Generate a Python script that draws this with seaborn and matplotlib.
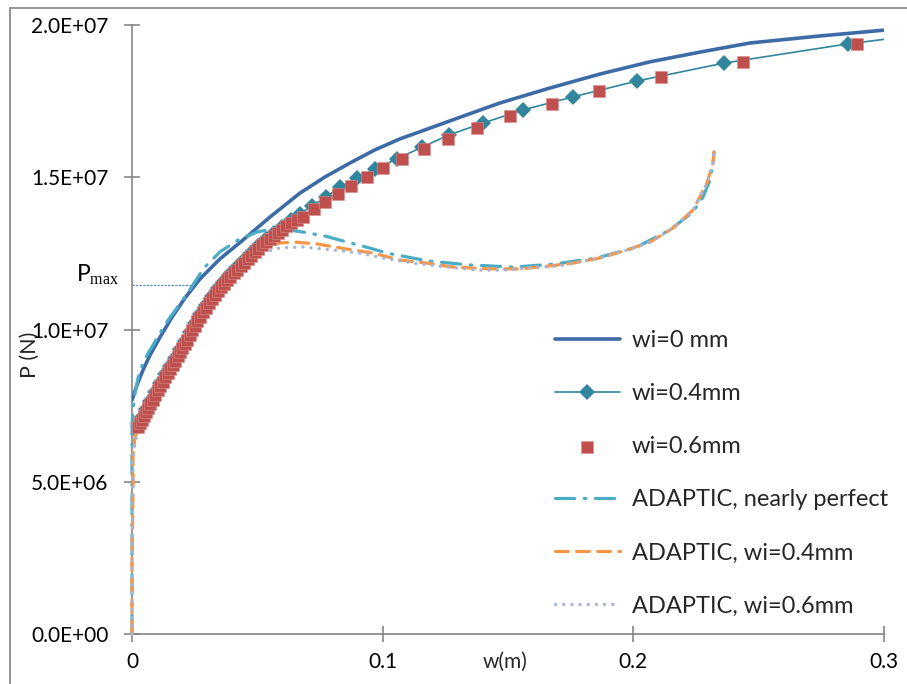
import numpy as np
import pandas as pd
import matplotlib
matplotlib.use("Agg")
import matplotlib.pyplot as plt
import seaborn as sns
from matplotlib.ticker import FuncFormatter, FixedLocator
from matplotlib.patches import Rectangle

# values: w in m, P in MN
w_wi0 = [0, 0.0020, 0.0044, 0.0072, 0.0112, 0.0160, 0.0211, 0.0271, 0.0351, 0.0443,
         0.0550, 0.0670, 0.0770, 0.0870, 0.0969, 0.1069, 0.1201, 0.1332, 0.1468, 0.1667,
         0.1867, 0.2066, 0.2266, 0.2466, 0.2745, 0.3012]
P_wi0 = [7.68, 8.18, 8.67, 9.16, 9.75, 10.41, 11.03, 11.66, 12.32, 12.94,
         13.69, 14.48, 15.01, 15.47, 15.90, 16.26, 16.65, 17.04, 17.44, 17.93,
         18.39, 18.79, 19.11, 19.41, 19.64, 19.84]

w_wi04 = [0.0012, 0.0024, 0.0040, 0.0056, 0.0072, 0.0092, 0.0112, 0.0132, 0.0152, 0.0172,
          0.0191, 0.0211, 0.0231, 0.0251, 0.0271, 0.0295, 0.0319, 0.0343, 0.0367, 0.0391,
          0.0419, 0.0447, 0.0475, 0.0503, 0.0535, 0.0566, 0.0598, 0.0634, 0.0670, 0.0718,
          0.0774, 0.0830, 0.0898, 0.0969, 0.1057, 0.1157, 0.1265, 0.1400, 0.1560, 0.1759,
          0.2014, 0.2362, 0.2856, 0.3303]
P_wi04 = [6.72, 6.90, 7.13, 7.39, 7.65, 7.95, 8.24, 8.54, 8.80, 9.07,
          9.36, 9.62, 9.92, 10.22, 10.51, 10.81, 11.10, 11.36, 11.59, 11.82,
          12.05, 12.28, 12.51, 12.74, 12.97, 13.17, 13.37, 13.60, 13.80, 14.06,
          14.35, 14.68, 14.98, 15.27, 15.60, 15.99, 16.39, 16.78, 17.21, 17.64,
          18.16, 18.75, 19.38, 19.84]

w_wi06 = [0.0024, 0.0032, 0.0040, 0.0048, 0.0056, 0.0064, 0.0072, 0.0082, 0.0092, 0.0102,
          0.0112, 0.0122, 0.0132, 0.0142, 0.0152, 0.0162, 0.0172, 0.0182, 0.0191, 0.0201,
          0.0211, 0.0221, 0.0231, 0.0241, 0.0251, 0.0261, 0.0271, 0.0283, 0.0295, 0.0307,
          0.0319, 0.0331, 0.0343, 0.0355, 0.0367, 0.0379, 0.0391, 0.0405, 0.0419, 0.0433,
          0.0447, 0.0461, 0.0475, 0.0489, 0.0503, 0.0519, 0.0535, 0.0551, 0.0566, 0.0582,
          0.0598, 0.0616, 0.0634, 0.0658, 0.0682, 0.0726, 0.0770, 0.0822, 0.0874, 0.0937,
          0.1001, 0.1077, 0.1165, 0.1261, 0.1376, 0.1508, 0.1675, 0.1863, 0.2110, 0.2437,
          0.2892, 0.3383]
P_wi06 = [6.80, 6.92, 7.03, 7.16, 7.29, 7.42, 7.55, 7.70, 7.85, 8.00,
          8.14, 8.29, 8.44, 8.57, 8.70, 8.84, 8.97, 9.12, 9.26, 9.39,
          9.52, 9.67, 9.82, 9.97, 10.12, 10.27, 10.41, 10.56, 10.71, 10.86,
          11.00, 11.13, 11.26, 11.38, 11.49, 11.61, 11.72, 11.84, 11.95, 12.07,
          12.18, 12.30, 12.41, 12.53, 12.64, 12.76, 12.87, 12.97, 13.07, 13.17,
          13.27, 13.39, 13.50, 13.60, 13.69, 13.96, 14.19, 14.45, 14.71, 15.01,
          15.30, 15.60, 15.93, 16.26, 16.62, 17.01, 17.41, 17.83, 18.29, 18.79,
          19.38, 19.90]

w_adp0 = [0, 0, 0, 0, 0.0004, 0.0012, 0.0024, 0.0040, 0.0060, 0.0084,
          0.0112, 0.0144, 0.0176, 0.0207, 0.0243, 0.0287, 0.0351, 0.0423, 0.0499, 0.0578,
          0.0682, 0.0770, 0.0858, 0.0933, 0.1017, 0.1181, 0.1348, 0.1520, 0.1687, 0.1855,
          0.2014, 0.2146, 0.2238, 0.2278, 0.2306, 0.2318, 0.2322]
P_adp0 = [0, 3.09, 5.71, 6.86, 7.36, 7.91, 8.41, 8.80, 9.16, 9.49,
          9.89, 10.31, 10.67, 11.03, 11.46, 12.02, 12.55, 12.94, 13.20, 13.33,
          13.20, 13.07, 12.87, 12.71, 12.51, 12.25, 12.12, 12.05, 12.15, 12.35,
          12.71, 13.27, 13.86, 14.35, 14.91, 15.47, 15.83]

w_adp04 = [0, 0, 0.0004, 0.0004, 0.0012, 0.0024, 0.0040, 0.0060, 0.0084, 0.0112,
           0.0144, 0.0180, 0.0219, 0.0259, 0.0299, 0.0363, 0.0443, 0.0519, 0.0590, 0.0650,
           0.0738, 0.0858, 0.0961, 0.1069, 0.1177, 0.1280, 0.1428, 0.1548, 0.1667, 0.1759,
           0.1867, 0.1975, 0.2066, 0.2158, 0.2238, 0.2294, 0.2318, 0.2322]
P_adp04 = [0, 2.43, 4.73, 5.88, 6.47, 6.77, 7.06, 7.42, 7.82, 8.24,
           8.70, 9.20, 9.75, 10.31, 10.90, 11.69, 12.38, 12.68, 12.84, 12.87,
           12.81, 12.64, 12.51, 12.28, 12.18, 12.05, 11.99, 11.99, 12.09, 12.18,
           12.35, 12.61, 12.87, 13.33, 13.92, 14.81, 15.47, 15.83]

w_adp06 = [0, 0, 0.0004, 0.0004, 0.0012, 0.0024, 0.0040, 0.0060, 0.0084, 0.0112,
           0.0144, 0.0180, 0.0219, 0.0259, 0.0299, 0.0363, 0.0443, 0.0519, 0.0590, 0.0682,
           0.0802, 0.0910, 0.1001, 0.1121, 0.1257, 0.1388, 0.1480, 0.1588, 0.1707, 0.1867,
           0.1975, 0.2066, 0.2158, 0.2238, 0.2294, 0.2318, 0.2322]
P_adp06 = [0, 2.43, 4.73, 5.71, 6.31, 6.70, 6.99, 7.36, 7.75, 8.18,
           8.64, 9.13, 9.69, 10.25, 10.80, 11.53, 12.12, 12.51, 12.68, 12.71,
           12.61, 12.51, 12.35, 12.18, 12.05, 11.95, 11.95, 12.02, 12.09, 12.35,
           12.61, 12.87, 13.33, 13.92, 14.81, 15.47, 15.83]

p_max = 11.46
w_pmax = 0.0243

labels = ["wi=0 mm", "wi=0.4mm", "wi=0.6mm", "ADAPTIC, nearly perfect",
          "ADAPTIC, wi=0.4mm", "ADAPTIC, wi=0.6mm"]


def frame(w, P):
    return pd.DataFrame({"w": w, "P": np.array(P) * 1e6})


sns.set_theme(style="white")
plt.rcParams["font.family"] = ["Lato", "DejaVu Sans"]
plt.rcParams["mathtext.fontset"] = "custom"
plt.rcParams["mathtext.rm"] = "Liberation Serif"

fig = plt.figure(figsize=(9.07, 6.84), dpi=100)
ax = fig.add_axes([132 / 907, 50 / 684, 752 / 907, 609 / 684])

sns.lineplot(data=frame(w_wi0, P_wi0), x="w", y="P", sort=False, estimator=None,
             color="#3D6BA6", lw=2.6, label=labels[0], ax=ax, zorder=3)
sns.lineplot(data=frame(w_wi04, P_wi04), x="w", y="P", sort=False, estimator=None,
             color="#31859C", lw=1.2, marker="D", markersize=8, markeredgewidth=0,
             label=labels[1], ax=ax, zorder=3)
sns.lineplot(data=frame(w_adp0, P_adp0), x="w", y="P", sort=False, estimator=None,
             color="#4BACC6", lw=2.3, linestyle=(0, (6, 3, 0.5, 3)),
             dash_capstyle="round", label=labels[3], ax=ax, zorder=4, clip_on=False)
sns.lineplot(data=frame(w_adp04, P_adp04), x="w", y="P", sort=False, estimator=None,
             color="#F79646", lw=2.3, linestyle=(0, (4, 2.6)), dash_capstyle="round",
             label=labels[4], ax=ax, zorder=4, clip_on=False)
sns.lineplot(data=frame(w_adp06, P_adp06), x="w", y="P", sort=False, estimator=None,
             color="#A3B5D8", lw=2.4, linestyle=(0, (0.05, 2.4)), dash_capstyle="round",
             label=labels[5], ax=ax, zorder=4, clip_on=False)
sns.scatterplot(data=frame(w_wi06, P_wi06), x="w", y="P", marker="s", s=75,
                color="#C0504D", edgecolor="#D88C8A", linewidth=0.4,
                label=labels[2], ax=ax, zorder=5)

# P_max marker line
ax.plot([0, w_pmax], [p_max * 1e6, p_max * 1e6], color="#4F81BD", lw=0.8,
        linestyle=(0, (2, 1.2)), zorder=2)
ax.text(-0.0052, 11.8e6, r"P$_{\mathrm{max}}$", ha="right", va="center",
        fontsize=16.5, color="black", clip_on=False)

ax.set_xlim(0, 0.3)
ax.set_ylim(0, 2e7)
ax.xaxis.set_major_locator(FixedLocator([0, 0.1, 0.2, 0.3]))
ax.yaxis.set_major_locator(FixedLocator([0, 5e6, 1e7, 1.5e7, 2e7]))
ax.xaxis.set_major_formatter(FuncFormatter(lambda v, p: "0" if v == 0 else f"{v:g}"))
ax.yaxis.set_major_formatter(FuncFormatter(lambda v, p: f"{v:.1E}"))
ax.tick_params(bottom=True, left=True, direction="inout", length=12, width=1.2,
               color="#868686", labelsize=15, labelcolor="black")
ax.tick_params(axis="y", pad=11)
ax.tick_params(axis="x", pad=7)
for s in ["top", "right"]:
    ax.spines[s].set_visible(False)
for s in ["left", "bottom"]:
    ax.spines[s].set_color("#868686")
    ax.spines[s].set_linewidth(1.2)
ax.set_xlabel("")
ax.set_ylabel("")
fig.text(505 / 907, 1 - 662 / 684, "w(m)", ha="center", va="center", fontsize=15)
fig.text(30 / 907, 1 - 355 / 684, "P (N)", ha="center", va="center", fontsize=15.5, rotation=90)

handles, labs = ax.get_legend_handles_labels()
hmap = dict(zip(labs, handles))
ax.legend([hmap[l] for l in labels], labels, loc="upper left",
          bbox_to_anchor=(0.5625, 0.499), frameon=False, fontsize=17,
          handlelength=2.75, handletextpad=0.5, labelspacing=1.36,
          borderaxespad=0, borderpad=0, numpoints=1, markerscale=1)

fig.patches.append(Rectangle((10 / 907, -0.1), 1.2, 1 - 8 / 684 + 0.1,
                             transform=fig.transFigure, fill=False,
                             edgecolor="#8C8C8C", linewidth=1.3))

fig.savefig("out.png", dpi=100)
